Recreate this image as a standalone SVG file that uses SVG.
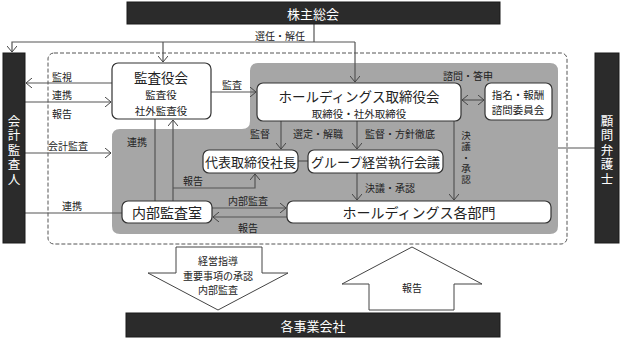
<svg xmlns="http://www.w3.org/2000/svg" width="623" height="341" viewBox="0 0 623 341">
<style>
text{font-family:"Noto Sans CJK JP","Noto Sans",sans-serif;fill:#222;text-anchor:middle;dominant-baseline:central}
.dark{fill:#2b2b2b;stroke:#1a1a1a;stroke-width:1}
.wt{fill:#fff}
.vt{fill:#fff;font-size:12.5px;writing-mode:vertical-rl;letter-spacing:2px}
.box{fill:#fff;stroke:#333;stroke-width:1.2}
.ln{fill:none;stroke:#555;stroke-width:1.2}
.lb{font-size:10px}
.vl{font-size:9.5px;writing-mode:vertical-rl;letter-spacing:1.5px}
.big{font-size:14px}
.ttl{font-size:13.5px}
.bx{font-size:13px}
.mid{font-size:10.5px}
</style>
<defs>
<marker id="ah" viewBox="0 0 6 10" refX="6" refY="5" markerWidth="6" markerHeight="10" markerUnits="userSpaceOnUse" orient="auto-start-reverse">
<path d="M0,0 L6,5 L0,10" fill="none" stroke="#444" stroke-width="1"/>
</marker>
</defs>
<rect width="623" height="341" fill="#fff"/>
<path d="M258,63 H550 Q558,63 558,71 V226 Q558,234 550,234 H120 Q112,234 112,226 V137 Q112,129 120,129 H242 Q250,129 250,121 V71 Q250,63 258,63 Z" fill="#a6a6a6"/>
<rect x="48" y="53" width="519" height="191" rx="6" fill="none" stroke="#555" stroke-width="1" stroke-dasharray="4,2"/>
<g id="connectors">
<path class="ln" d="M314,24 V42"/>
<path class="ln" d="M355,42 H12 V52" marker-end="url(#ah)"/>
<path class="ln" d="M355,42 V82" marker-end="url(#ah)"/>
<path class="ln" d="M163,42 V62" marker-end="url(#ah)"/>
<path class="ln" d="M112,83 H26" marker-end="url(#ah)"/>
<path class="ln" d="M25,102 H111" marker-end="url(#ah)"/>
<path class="ln" d="M25,153 H111" marker-end="url(#ah)"/>
<path class="ln" d="M25,213 H122"/>
<path class="ln" d="M211,92 H256" marker-end="url(#ah)"/>
<path class="ln" d="M462,100 H484" marker-start="url(#ah)" marker-end="url(#ah)"/>
<path class="ln" d="M281,121 V149" marker-end="url(#ah)"/>
<path class="ln" d="M357,121 V149" marker-end="url(#ah)"/>
<path class="ln" d="M454,121 V200" marker-end="url(#ah)"/>
<path class="ln" d="M357,173 V200" marker-end="url(#ah)"/>
<path class="ln" d="M298,161 H308"/>
<path class="ln" d="M155,119 V201"/>
<path class="ln" d="M173,201 V120" marker-end="url(#ah)"/>
<path class="ln" d="M173,188 H255 V174" marker-end="url(#ah)"/>
<path class="ln" d="M212,208 H286" marker-end="url(#ah)"/>
<path class="ln" d="M287,217 H213" marker-end="url(#ah)"/>
<path class="ln" d="M558,148 H595"/>
</g>
<g id="kabunushi"><rect class="dark" x="127" y="2" width="373" height="22"/><text class="wt" x="313" y="13" font-size="13">株主総会</text></g>
<text class="lb" x="280" y="35">選任・解任</text>
<g id="kaikei"><rect class="dark" x="3" y="53" width="22" height="190"/>
<text class="vt" x="14" y="151">会計監査人</text></g>
<g id="komon"><rect class="dark" x="595" y="53" width="24" height="190"/>
<text class="vt" x="607" y="151">顧問弁護士</text></g>
<g id="kansayakukai"><rect class="box" x="112" y="63" width="99" height="56" rx="6"/>
<text class="ttl" x="161" y="77">監査役会</text><text class="mid" x="161" y="94.5">監査役</text><text class="mid" x="161" y="110">社外監査役</text></g>
<g id="hd-board"><rect class="box" x="257" y="83" width="204" height="38" rx="6"/>
<text class="ttl" x="359" y="95.5">ホールディングス取締役会</text><text class="mid" x="359" y="113">取締役・社外取締役</text></g>
<g id="shimei"><rect class="box" x="485" y="83" width="67" height="37" rx="6"/>
<text class="mid" x="518" y="94">指名・報酬</text><text class="mid" x="518" y="109.5">諮問委員会</text></g>
<g id="daihyo"><rect class="box" x="203" y="150" width="95" height="23" rx="6"/><text class="bx" x="250.5" y="161.5">代表取締役社長</text></g>
<g id="group"><rect class="box" x="308" y="150" width="135" height="23" rx="6"/><text class="bx" x="375.5" y="161.5">グループ経営執行会議</text></g>
<g id="naibu"><rect class="box" x="122" y="201" width="90" height="22" rx="6"/><text class="big" x="167" y="212">内部監査室</text></g>
<g id="hd-bumon"><rect class="box" x="287" y="201" width="264" height="22" rx="6"/><text class="big" x="419" y="212">ホールディングス各部門</text></g>
<g id="jigyo"><rect class="dark" x="126" y="313" width="374" height="24"/><text class="wt" x="313" y="325" font-size="13">各事業会社</text></g>
<g id="labels">
<text class="lb" x="468" y="75">諮問・答申</text>
<text class="lb" x="232" y="84">監査</text>
<text class="lb" x="62" y="76">監視</text>
<text class="lb" x="62" y="94">連携</text>
<text class="lb" x="62" y="113">報告</text>
<text class="lb" x="68" y="145">会計監査</text>
<text class="lb" x="72" y="205">連携</text>
<text class="lb" x="137" y="141">連携</text>
<text class="lb" x="260" y="133">監督</text>
<text class="lb" x="318" y="133">選定・解職</text>
<text class="lb" x="400" y="133">監督・方針徹底</text>
<text class="vl" x="466" y="158">決議・承認</text>
<text class="lb" x="390" y="187">決議・承認</text>
<text class="lb" x="193" y="180">報告</text>
<text class="lb" x="248" y="200">内部監査</text>
<text class="lb" x="248" y="227">報告</text>
</g>
<g id="down-arrow"><path d="M176,247 H262 V273 H288 L218,310 L148,273 H176 Z" fill="#fff" stroke="#444" stroke-width="1"/>
<text class="lb" x="218" y="260.5">経営指導</text><text class="lb" x="218" y="275">重要事項の承認</text><text class="lb" x="218" y="289.5">内部監査</text></g>
<g id="up-arrow"><path d="M412,247 L482,284 H454 V310 H369 V284 H342 Z" fill="#fff" stroke="#444" stroke-width="1"/>
<text class="lb" x="412" y="287">報告</text></g>
</svg>
